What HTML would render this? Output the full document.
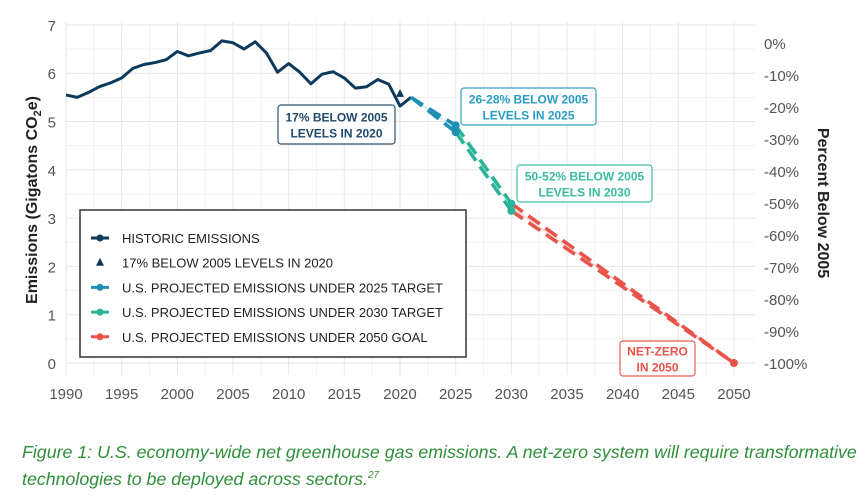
<!DOCTYPE html>
<html><head><meta charset="utf-8"><style>
body{margin:0;background:#fff;width:867px;height:498px;overflow:hidden;font-family:"Liberation Sans",sans-serif}
svg text{font-family:"Liberation Sans",sans-serif}
.cap{position:absolute;left:22px;top:441px;color:#2f8f3a;font-style:italic;font-size:17.8px;line-height:23px;font-family:"Liberation Sans",sans-serif;white-space:nowrap}
</style></head><body>
<svg id="s" width="867" height="498" style="position:absolute;left:0;top:0"></svg>
<div class="cap">Figure 1: U.S. economy-wide net greenhouse gas emissions. A net-zero system will require transformative<br>technologies to be deployed across sectors.<sup style="font-size:10px">27</sup></div>
<script>
const X=y=>66+(y-1990)*11.133, Y=v=>363-v*48.3;
let h='';
for(let v=0;v<=7;v+=0.5){h+=`<line x1="66" x2="755" y1="${Y(v)}" y2="${Y(v)}" stroke="${v%1?'#f2f2f2':'#e6e6e6'}" stroke-width="1"/>`;}
for(let y=1990;y<=2050;y+=2.5){h+=`<line y1="22" y2="375" x1="${X(y)}" x2="${X(y)}" stroke="${y%5?'#f2f2f2':'#e6e6e6'}" stroke-width="1"/>`;}
for(let v=0;v<=7;v++)h+=`<text x="56" y="${Y(v)+6}" text-anchor="end" font-size="15" fill="#555">${v}</text>`;
for(let y=1990;y<=2050;y+=5)h+=`<text x="${X(y)}" y="399" text-anchor="middle" font-size="15" fill="#555">${y}</text>`;
for(let p=0;p<=100;p+=10){const v=6.63*(1-p/100);h+=`<text x="764" y="${Y(v)+6}" font-size="15" fill="#555">${p?'-':''}${p}%</text>`;}
h+=`<text transform="translate(37,200) rotate(-90)" text-anchor="middle" font-size="16" font-weight="bold" fill="#222">Emissions (Gigatons CO<tspan font-size="11" dy="4">2</tspan><tspan dy="-4">e)</tspan></text>`;
h+=`<text transform="translate(818,203) rotate(90)" text-anchor="middle" font-size="16" font-weight="bold" fill="#222">Percent Below 2005</text>`;
const hist=[5.55,5.5,5.6,5.72,5.8,5.9,6.1,6.18,6.22,6.28,6.45,6.36,6.42,6.47,6.67,6.63,6.5,6.65,6.42,6.02,6.2,6.02,5.78,5.98,6.03,5.9,5.69,5.72,5.87,5.77,5.32,5.5];
h+=`<polyline fill="none" stroke="#0d3a5c" stroke-width="3" stroke-linejoin="round" points="${hist.map((v,i)=>X(1990+i)+','+Y(v)).join(' ')}"/>`;
const L=(a,b,c)=>`<line x1="${X(a[0])}" y1="${Y(a[1])}" x2="${X(b[0])}" y2="${Y(b[1])}" stroke="${c}" stroke-width="3.5" stroke-dasharray="14,7"/>`;
const U=(a,b,c)=>`<line x1="${X(a[0])}" y1="${Y(a[1])}" x2="${X(b[0])}" y2="${Y(b[1])}" stroke="${c}" stroke-width="2"/>`;
const C=(x,v,c)=>`<circle cx="${X(x)}" cy="${Y(v)}" r="4" fill="${c}"/>`;
h+=U([2021,5.5],[2025,4.85],'#d3ecf3')+U([2025,4.85],[2030,3.22],'#d4f0ea')+U([2030,3.22],[2050,0],'#f8dcd9');
h+=L([2021,5.5],[2025,4.92],'#1f8fb5')+L([2021,5.5],[2025,4.78],'#1f8fb5');
h+=L([2025,4.92],[2030,3.3],'#2bb39a')+L([2025,4.78],[2030,3.15],'#2bb39a');
h+=L([2030,3.3],[2050,0],'#e8534a')+L([2030,3.15],[2050,0],'#e8534a');
h+=C(2025,4.92,'#1f8fb5')+C(2025,4.78,'#1f8fb5')+C(2030,3.3,'#2bb39a')+C(2030,3.15,'#2bb39a')+C(2050,0,'#e8534a');
h+=`<polygon points="${X(2020)},${Y(5.55)-6} ${X(2020)-4},${Y(5.55)+2} ${X(2020)+4},${Y(5.55)+2}" fill="#0d3a5c"/>`;
const box=(x,y,w,hh,c,t1,t2)=>`<rect x="${x}" y="${y}" width="${w}" height="${hh}" rx="3" fill="#fff" stroke="${c}" stroke-width="1.2" opacity="0.95"/><text x="${x+w/2}" y="${y+hh/2-3}" text-anchor="middle" font-size="12" font-weight="bold" fill="${c}">${t1}</text><text x="${x+w/2}" y="${y+hh/2+13}" text-anchor="middle" font-size="12" font-weight="bold" fill="${c}">${t2}</text>`;
h+=box(278,105,117,39,'#1f4a6a','17% BELOW 2005','LEVELS IN 2020');
h+=box(461,88,135,37,'#2a9cc4','26-28% BELOW 2005','LEVELS IN 2025');
h+=box(517,165,135,37,'#3bbba0','50-52% BELOW 2005','LEVELS IN 2030');
h+=box(620,341,75,35,'#e8534a','NET-ZERO','IN 2050');
h+=`<rect x="80" y="210" width="386" height="147" fill="#fff" stroke="#333" stroke-width="1.5"/>`;
const items=[['#0d3a5c','HISTORIC EMISSIONS'],['#0d3a5c','17% BELOW 2005 LEVELS IN 2020'],['#1f8fb5','U.S. PROJECTED EMISSIONS UNDER 2025 TARGET'],['#2bb39a','U.S. PROJECTED EMISSIONS UNDER 2030 TARGET'],['#e8534a','U.S. PROJECTED EMISSIONS UNDER 2050 GOAL']];
items.forEach((it,i)=>{const y=238+i*24.7;
 if(i==1)h+=`<polygon points="100,${y-5} 96,${y+3} 104,${y+3}" fill="${it[0]}"/>`;
 else h+=`<line x1="91" x2="109" y1="${y}" y2="${y}" stroke="${it[0]}" stroke-width="3"/><circle cx="100" cy="${y}" r="3.5" fill="${it[0]}"/>`;
 h+=`<text x="122" y="${y+5}" font-size="13" fill="#222">${it[1]}</text>`;});
document.getElementById('s').innerHTML=h;
</script>
</body></html>
